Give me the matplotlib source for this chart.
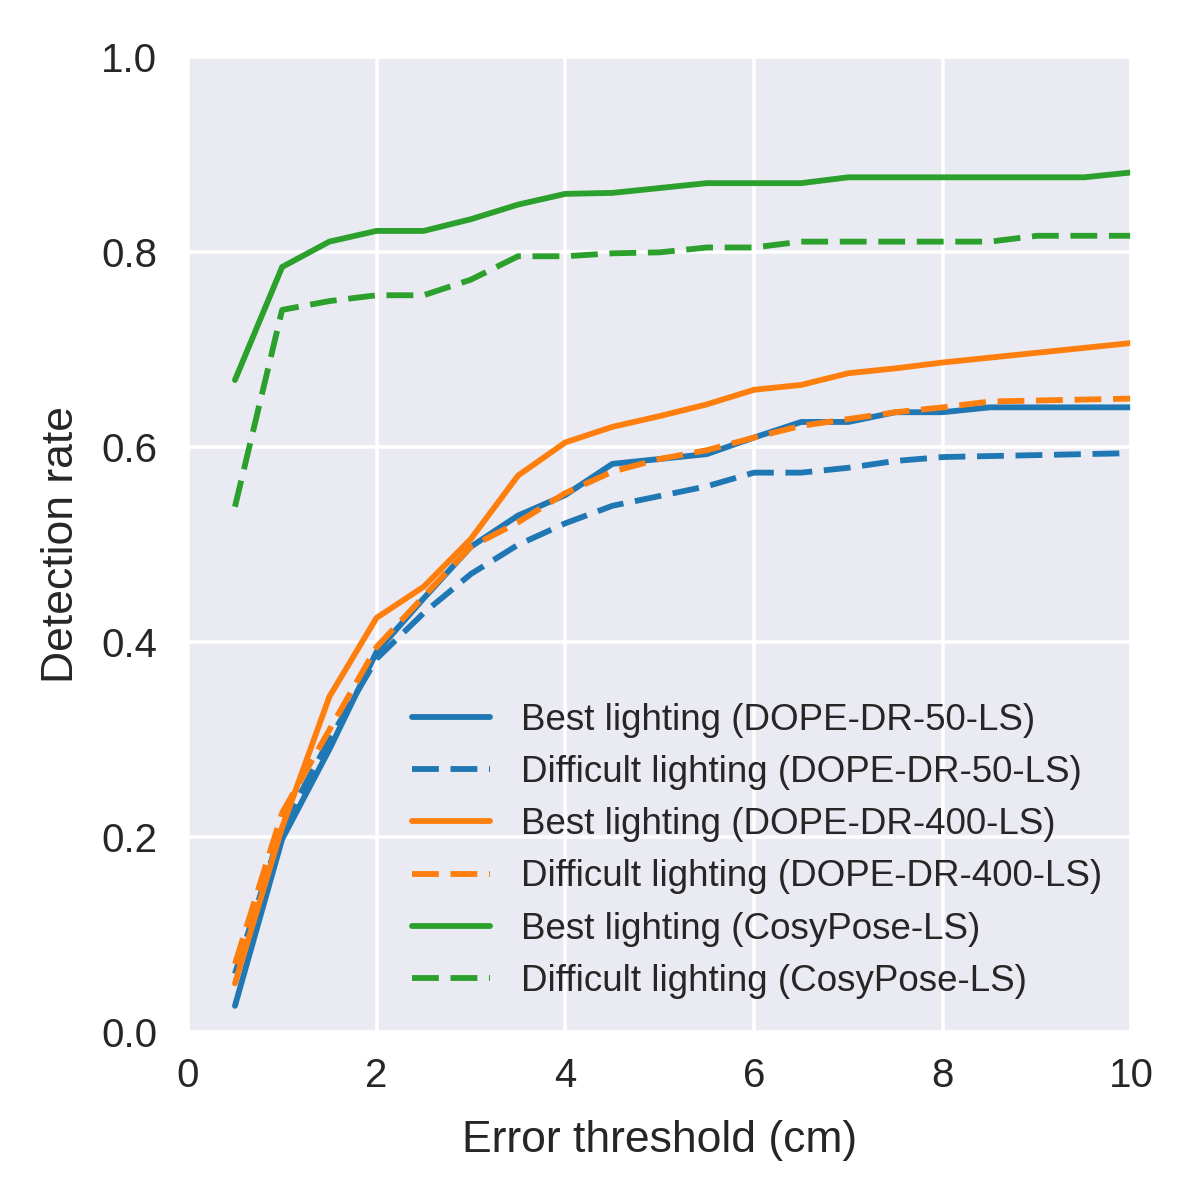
import numpy as np
import matplotlib
matplotlib.use('Agg')
from matplotlib import pyplot as plt
import seaborn as sns

sns.set_theme(style="darkgrid")
plt.rcParams['font.family'] = ['Liberation Sans', 'DejaVu Sans']

thresholds = [0.5, 1, 1.5, 2, 2.5, 3, 3.5, 4, 4.5, 5,
              5.5, 6, 6.5, 7, 7.5, 8, 8.5, 9, 9.5, 10]

best_dope50 = [0.027, 0.198, 0.290, 0.390, 0.445, 0.498, 0.530, 0.551, 0.583, 0.588,
               0.593, 0.610, 0.626, 0.626, 0.636, 0.636, 0.641, 0.641, 0.641, 0.641]
diff_dope50 = [0.060, 0.210, 0.300, 0.383, 0.430, 0.470, 0.500, 0.522, 0.540, 0.550,
               0.560, 0.574, 0.574, 0.579, 0.586, 0.590, 0.591, 0.592, 0.593, 0.594]
best_dope400 = [0.050, 0.210, 0.344, 0.425, 0.457, 0.506, 0.571, 0.605, 0.621, 0.632,
                0.644, 0.659, 0.664, 0.676, 0.681, 0.687, 0.692, 0.697, 0.702, 0.707]
diff_dope400 = [0.070, 0.225, 0.310, 0.395, 0.447, 0.498, 0.523, 0.553, 0.575, 0.588,
                0.597, 0.610, 0.622, 0.629, 0.636, 0.641, 0.647, 0.648, 0.649, 0.650]
best_cosy = [0.669, 0.785, 0.811, 0.822, 0.822, 0.834, 0.849, 0.860, 0.861, 0.866,
             0.871, 0.871, 0.871, 0.877, 0.877, 0.877, 0.877, 0.877, 0.877, 0.882]
diff_cosy = [0.539, 0.741, 0.750, 0.756, 0.756, 0.772, 0.796, 0.796, 0.799, 0.800,
             0.805, 0.805, 0.811, 0.811, 0.811, 0.811, 0.811, 0.817, 0.817, 0.817]

series = [
    ("Best lighting (DOPE-DR-50-LS)", best_dope50, "#1f77b4", "-"),
    ("Difficult lighting (DOPE-DR-50-LS)", diff_dope50, "#1f77b4", "--"),
    ("Best lighting (DOPE-DR-400-LS)", best_dope400, "#ff7f0e", "-"),
    ("Difficult lighting (DOPE-DR-400-LS)", diff_dope400, "#ff7f0e", "--"),
    ("Best lighting (CosyPose-LS)", best_cosy, "#2ca02c", "-"),
    ("Difficult lighting (CosyPose-LS)", diff_cosy, "#2ca02c", "--"),
]

fig = plt.figure(figsize=(11.96, 11.96), dpi=100)
ax = fig.add_axes([0.157, 0.137, 0.789, 0.815])

for label, vals, col, ls in series:
    line, = ax.plot(thresholds, vals, color=col, linestyle=ls, linewidth=4.2, label=label)
    if ls == "--":
        line.set_dashes((4.6, 2.0))

ax.set_xlim(0, 10)
ax.set_ylim(0, 1.0)
ax.set_xticks([0, 2, 4, 6, 8, 10])
ax.set_yticks([0.0, 0.2, 0.4, 0.6, 0.8, 1.0])
ax.tick_params(labelsize=29)
ax.tick_params(axis='y', pad=16)
ax.tick_params(axis='x', pad=12)
ax.grid(linewidth=2.6)
ax.set_xlabel("Error threshold (cm)", fontsize=32, labelpad=18)
ax.set_ylabel("Detection rate", fontsize=32, labelpad=14)

ax.legend(loc="lower right", fontsize=26.5, frameon=False, handlelength=2.1,
          handletextpad=0.85, labelspacing=0.47, bbox_to_anchor=(1.004, 0.0))

fig.savefig("out.png", dpi=100)
